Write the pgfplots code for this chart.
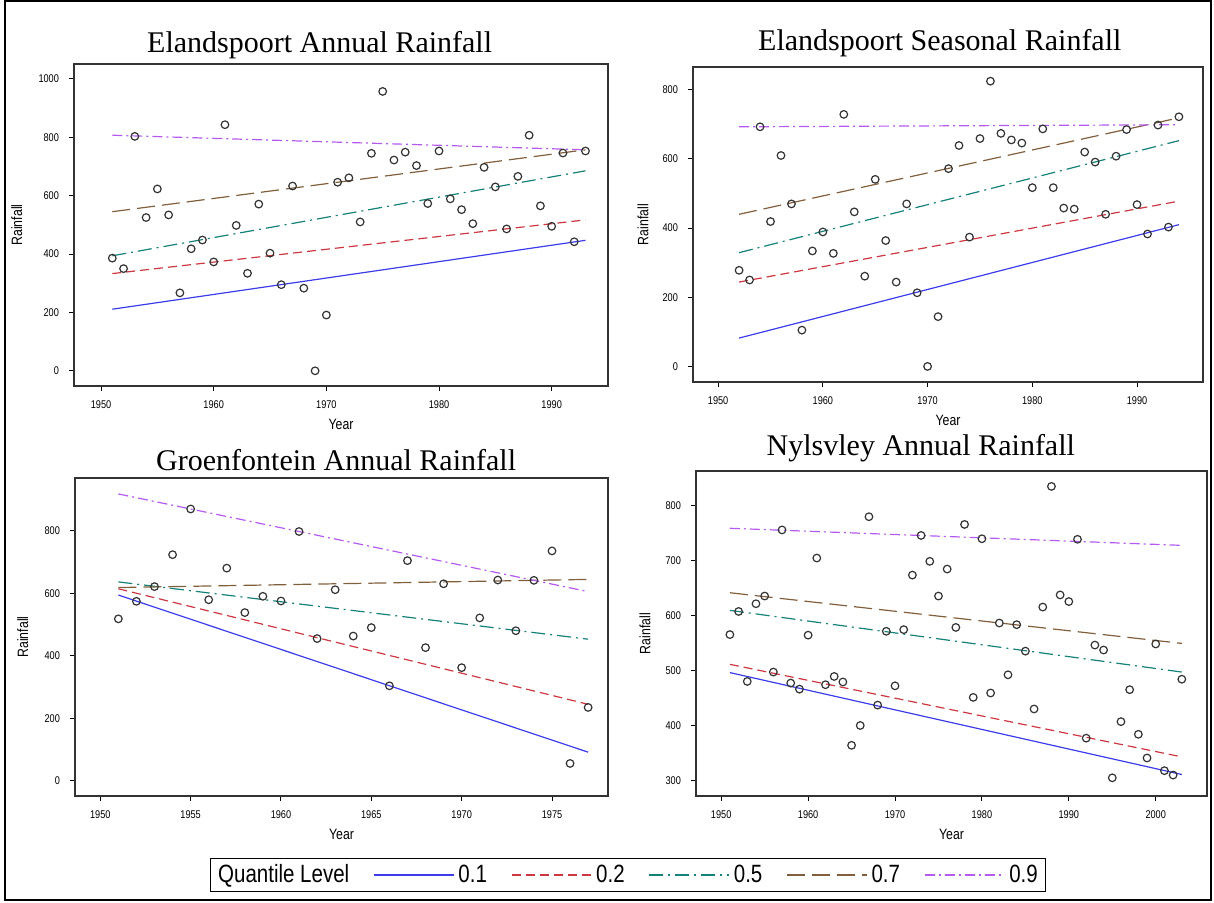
\documentclass[border=0pt]{standalone}
\usepackage{fontspec}
\setmainfont{Liberation Serif}
\newfontfamily\nsans[FakeStretch=0.82]{Liberation Sans}
\usepackage{pgfplots}
\pgfplotsset{compat=1.18}

\definecolor{qblue}{RGB}{60,60,235}
\definecolor{qred}{RGB}{205,55,65}
\definecolor{qteal}{RGB}{20,130,120}
\definecolor{qbrown}{RGB}{130,95,60}
\definecolor{qpurple}{RGB}{180,90,240}

\pgfplotsset{
  rain/.style={
    scale only axis,
    axis line style={black!80, line width=0.8pt},
    tick align=outside, tick pos=left,
    major tick length=2.5pt,
    tick style={black, line width=0.5pt},
    tick label style={font=\nsans\fontsize{5.6}{6.5}\selectfont},
    /pgf/number format/assume math mode=true,
    /pgf/number format/1000 sep={},
    xticklabel style={yshift=-1.5pt},
    yticklabel style={xshift=-1.5pt},
    label style={font=\nsans\fontsize{7.5}{9}\selectfont},
    xlabel=Year, ylabel=Rainfall,
    xlabel style={at={(axis description cs:0.5,0)}, anchor=center, yshift=-19pt},
    title style={font=\fontsize{15}{18}\selectfont, anchor=center},
    legend image code/.code={\draw[#1] (0pt,0pt) -- (40pt,0pt);},
  },
  q1/.style={qblue, line width=0.6pt},
  q2/.style={qred, line width=0.6pt, dash pattern=on 4.5pt off 2.5pt},
  q5/.style={qteal, line width=0.6pt, dash pattern=on 7pt off 2.5pt on 1pt off 2.5pt},
  q7/.style={qbrown, line width=0.6pt, dash pattern=on 9pt off 3.5pt},
  q9/.style={qpurple, line width=0.6pt, dash pattern=on 5pt off 2pt on 1pt off 2pt},
  pts/.style={only marks, mark=o, mark size=1.9pt, black!80, mark options={line width=0.6pt}},
}

\begin{document}
\begin{tikzpicture}
\useasboundingbox (0,0) rectangle (607pt,451.5pt);
\draw[line width=1pt] (2.5pt,1.5pt) rectangle (605.5pt,451pt);

% Elandspoort annual
\begin{axis}[rain, at={(37pt,258.5pt)}, anchor=south west,
  width=267pt, height=161pt,
  xmin=1947.6, xmax=1995.0, ymin=-52, ymax=1051,
  xtick={1950,1960,...,1990}, ytick={0,200,...,1000},
  ylabel style={at={(axis description cs:-0.107,0.5)}, anchor=center},
  title={Elandspoort Annual Rainfall},
  title style={at={(axis description cs:0.46,1)}, yshift=3.5pt}]
\addplot[q1] coordinates {(1951,211) (1993,447)};
\addplot[q2] coordinates {(1951,333) (1993,517)};
\addplot[q5] coordinates {(1951,394) (1993,685)};
\addplot[q7] coordinates {(1951,545) (1993,757)};
\addplot[q9] coordinates {(1951,807) (1993,757)};
\addplot[pts] coordinates {
(1951,386) (1952,350) (1953,803) (1954,525) (1955,623) (1956,534) (1957,267)
(1958,418) (1959,448) (1960,373) (1961,843) (1962,498) (1963,334) (1964,571)
(1965,403) (1966,295) (1967,633) (1968,283) (1969,0) (1970,191) (1971,646)
(1972,661) (1973,510) (1974,745) (1975,957) (1976,722) (1977,749) (1978,703)
(1979,573) (1980,753) (1981,589) (1982,552) (1983,504) (1984,697) (1985,630)
(1986,486) (1987,666) (1988,807) (1989,565) (1990,495) (1991,746) (1992,442)
(1993,753)};
\end{axis}

% Elandspoort seasonal
\begin{axis}[rain, at={(346.5pt,260.5pt)}, anchor=south west,
  width=255pt, height=157.5pt,
  xmin=1947.6, xmax=1996.3, ymin=-45, ymax=866,
  xtick={1950,1960,...,1990}, ytick={0,200,...,800},
  ylabel style={at={(axis description cs:-0.098,0.5)}, anchor=center},
  title={Elandspoort Seasonal Rainfall},
  title style={at={(axis description cs:0.484,1)}, yshift=6pt}]
\addplot[q1] coordinates {(1952,82) (1994,410)};
\addplot[q2] coordinates {(1952,244) (1994,478)};
\addplot[q5] coordinates {(1952,329) (1994,653)};
\addplot[q7] coordinates {(1952,440) (1994,719)};
\addplot[q9] coordinates {(1952,693) (1994,699)};
\addplot[pts] coordinates {
(1952,278) (1953,250) (1954,693) (1955,419) (1956,610) (1957,470) (1958,105)
(1959,334) (1960,389) (1961,327) (1962,729) (1963,447) (1964,261) (1965,541)
(1966,364) (1967,244) (1968,470) (1969,213) (1970,0) (1971,144) (1972,572)
(1973,639) (1974,374) (1975,659) (1976,825) (1977,674) (1978,655) (1979,646)
(1980,517) (1981,687) (1982,517) (1983,458) (1984,455) (1985,620) (1986,591)
(1987,440) (1988,608) (1989,685) (1990,468) (1991,383) (1992,698) (1993,403)
(1994,722)};
\end{axis}

% Groenfontein annual (carries the legend)
\begin{axis}[rain, at={(37.5pt,53.5pt)}, anchor=south west,
  width=266.5pt, height=159pt,
  xmin=1948.6, xmax=1978.1, ymin=-48, ymax=968,
  xtick={1950,1955,...,1975}, ytick={0,200,...,800},
  ylabel style={at={(axis description cs:-0.098,0.5)}, anchor=center},
  title={Groenfontein Annual Rainfall},
  title style={at={(axis description cs:0.49,1)}, yshift=3pt},
  legend columns=-1,
  legend style={at={(axis description cs:1.0375,-0.2484)}, anchor=center,
    draw=black, line width=0.6pt, inner xsep=2pt, inner ysep=1pt,
    font=\nsans\fontsize{12.5}{14}\selectfont,
    /tikz/every even column/.append style={column sep=10pt}}]
\addlegendimage{empty legend}
\addlegendentry{Quantile Level}
\addplot[q1] coordinates {(1951,594) (1977,92)};
\addlegendentry{0.1}
\addplot[q2] coordinates {(1951,614) (1977,245)};
\addlegendentry{0.2}
\addplot[q5] coordinates {(1951,636) (1977,453)};
\addlegendentry{0.5}
\addplot[q7] coordinates {(1951,618) (1977,644)};
\addlegendentry{0.7}
\addplot[q9] coordinates {(1951,917) (1977,605)};
\addlegendentry{0.9}
\addplot[pts, forget plot] coordinates {
(1951,518) (1952,574) (1953,621) (1954,723) (1955,869) (1956,579) (1957,680)
(1958,538) (1959,590) (1960,575) (1961,797) (1962,455) (1963,611) (1964,463)
(1965,490) (1966,304) (1967,704) (1968,426) (1969,630) (1970,362) (1971,521)
(1972,642) (1973,480) (1974,641) (1975,735) (1976,56) (1977,235)};
\end{axis}

% Nylsvley annual
\begin{axis}[rain, at={(348pt,53.5pt)}, anchor=south west,
  width=255.5pt, height=162.5pt,
  xmin=1947.1, xmax=2005.9, ymin=272, ymax=862,
  xtick={1950,1960,...,2000}, ytick={300,400,...,800},
  ylabel style={at={(axis description cs:-0.1,0.5)}, anchor=center},
  title={Nylsvley Annual Rainfall},
  title style={at={(axis description cs:0.44,1)}, yshift=5.5pt}]
\addplot[q1] coordinates {(1951,496) (2003,311)};
\addplot[q2] coordinates {(1951,511) (2003,343)};
\addplot[q5] coordinates {(1951,609) (2003,497)};
\addplot[q7] coordinates {(1951,641) (2003,549)};
\addplot[q9] coordinates {(1951,758) (2003,727)};
\addplot[pts] coordinates {
(1951,565) (1952,607) (1953,480) (1954,621) (1955,635) (1956,497) (1957,755)
(1958,477) (1959,466) (1960,564) (1961,704) (1962,474) (1963,489) (1964,479)
(1965,364) (1966,400) (1967,779) (1968,437) (1969,571) (1970,472) (1971,574)
(1972,673) (1973,745) (1974,698) (1975,635) (1976,684) (1977,578) (1978,765)
(1979,451) (1980,739) (1981,459) (1982,586) (1983,492) (1984,583) (1985,535)
(1986,430) (1987,615) (1988,834) (1989,637) (1990,625) (1991,738) (1992,377)
(1993,546) (1994,537) (1995,305) (1996,407) (1997,465) (1998,384) (1999,341)
(2000,548) (2001,318) (2002,310) (2003,484)};
\end{axis}
\end{tikzpicture}
\end{document}
